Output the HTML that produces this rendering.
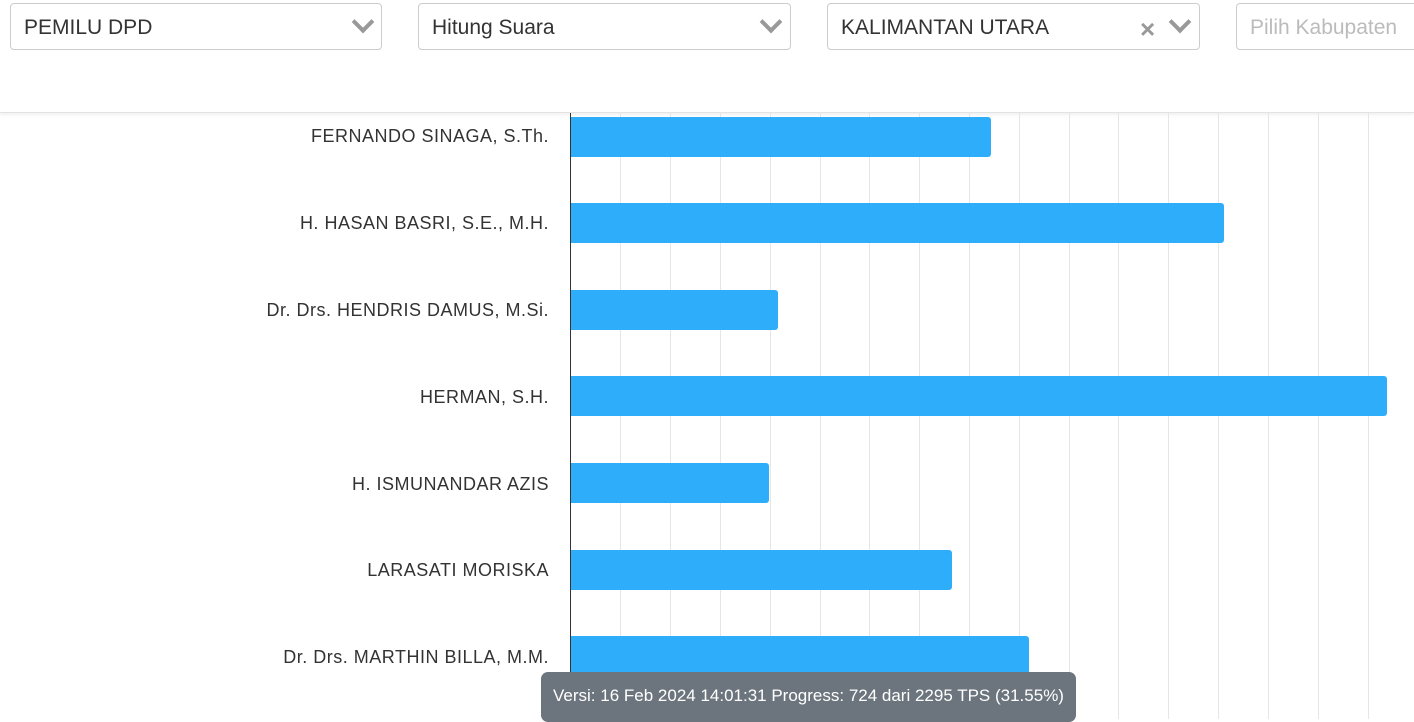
<!DOCTYPE html>
<html><head><style>
body{margin:0;width:1414px;height:719px;overflow:hidden;background:#fff;font-family:"Liberation Sans",sans-serif;position:relative}
.sel{position:absolute;top:3px;height:47px;border:1px solid #ccc;border-radius:4px;box-sizing:border-box;font-size:21px;color:#333;line-height:47px;padding-left:13px;background:#fff}
.chev{position:absolute;width:12px;height:12px;border-right:4px solid #999;border-bottom:4px solid #999;transform:rotate(45deg);top:10px}
.hdr{position:absolute;left:0;top:0;width:1414px;height:112px;border-bottom:1px solid #e3e3e3;box-shadow:0 2px 3px rgba(0,0,0,.06)}
.g{position:absolute;top:113px;height:606px;width:1px;background:#e6e6e6}
.bar{position:absolute;left:571px;height:40px;background:#2eadfb;border-radius:0 3px 3px 0}
.lb{position:absolute;right:865px;font-size:18px;letter-spacing:0.5px;color:#333;white-space:nowrap}
.tip{position:absolute;left:541px;top:672px;width:535px;height:50px;background:#6c757d;border-radius:7px;color:#fff;font-size:17px;line-height:47px;text-align:center}
</style></head><body>
<div class="hdr"></div>
<div class="sel" style="left:10px;width:372px">PEMILU DPD<div class="chev" style="left:344px"></div></div>
<div class="sel" style="left:418px;width:373px">Hitung Suara<div class="chev" style="left:344px"></div></div>
<div class="sel" style="left:827px;width:373px">KALIMANTAN UTARA<span style="position:absolute;left:312px;top:2px;color:#999;font-size:26px;font-weight:bold">×</span><div class="chev" style="left:344px"></div></div>
<div class="sel" style="left:1236px;width:200px;color:#bbb">Pilih Kabupaten</div>
<div class="g" style="left:620px"></div><div class="g" style="left:670px"></div><div class="g" style="left:720px"></div><div class="g" style="left:770px"></div><div class="g" style="left:820px"></div><div class="g" style="left:869px"></div><div class="g" style="left:919px"></div><div class="g" style="left:969px"></div><div class="g" style="left:1019px"></div><div class="g" style="left:1069px"></div><div class="g" style="left:1118px"></div><div class="g" style="left:1168px"></div><div class="g" style="left:1218px"></div><div class="g" style="left:1268px"></div><div class="g" style="left:1318px"></div><div class="g" style="left:1368px"></div>
<div style="position:absolute;left:570px;top:113px;width:1px;height:606px;background:#333"></div>
<div class="bar" style="top:117px;width:420px"></div>
<div class="bar" style="top:203px;width:653px"></div>
<div class="bar" style="top:290px;width:207px"></div>
<div class="bar" style="top:376px;width:816px"></div>
<div class="bar" style="top:463px;width:198px"></div>
<div class="bar" style="top:550px;width:381px"></div>
<div class="bar" style="top:636px;width:458px"></div>
<div class="lb" style="top:126px">FERNANDO SINAGA, S.Th.</div>
<div class="lb" style="top:213px">H. HASAN BASRI, S.E., M.H.</div>
<div class="lb" style="top:300px">Dr. Drs. HENDRIS DAMUS, M.Si.</div>
<div class="lb" style="top:387px">HERMAN, S.H.</div>
<div class="lb" style="top:474px">H. ISMUNANDAR AZIS</div>
<div class="lb" style="top:560px">LARASATI MORISKA</div>
<div class="lb" style="top:647px">Dr. Drs. MARTHIN BILLA, M.M.</div>
<div class="tip">Versi: 16 Feb 2024 14:01:31 Progress: 724 dari 2295 TPS (31.55%)</div>
</body></html>
